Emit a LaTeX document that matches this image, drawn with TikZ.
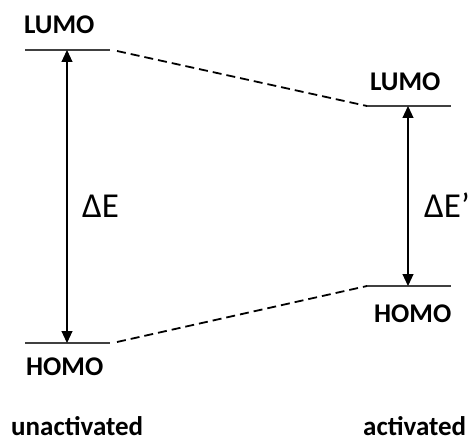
\documentclass[tikz,border=0pt]{standalone}
\usepackage{fontspec}
\setmainfont{Carlito}
\usetikzlibrary{arrows.meta}
\begin{document}
\begin{tikzpicture}[x=1bp,y=-1bp,
  lbl/.style={font=\fontsize{27bp}{30bp}\selectfont\bfseries, inner sep=0pt, anchor=base west},
  dlbl/.style={font=\fontsize{35bp}{40bp}\selectfont, inner sep=0pt, anchor=base west},
  level/.style={line width=1.1bp, draw=black!75},
  gap/.style={line width=1.1bp, {Triangle[width=11bp,length=12bp]}-{Triangle[width=11bp,length=12bp]}},
  corr/.style={line width=1.8bp, dash pattern=on 9bp off 5bp}]
\useasboundingbox (0,0) rectangle (474,443);
% levels
\coordinate (l1a) at (25,50);  \coordinate (l1b) at (110,50);
\coordinate (h1a) at (25,343); \coordinate (h1b) at (110,343);
\coordinate (l2a) at (367,106); \coordinate (l2b) at (451,106);
\coordinate (h2a) at (367,286); \coordinate (h2b) at (451,286);
\draw[level] (l1a) -- (l1b);
\draw[level] (h1a) -- (h1b);
\draw[level] (l2a) -- (l2b);
\draw[level] (h2a) -- (h2b);
% correlation lines
\coordinate (d1) at (117,51);
\coordinate (d2) at (117,342);
\draw[corr] (d1) -- (l2a);
\draw[corr] (d2) -- (h2a);
% gap arrows
\coordinate (a1t) at (67,50); \coordinate (a1b) at (67,343);
\coordinate (a2t) at (408,106); \coordinate (a2b) at (408,286);
\draw[gap] (a1t) -- (a1b);
\draw[gap] (a2t) -- (a2b);
% labels
\node[lbl] (lumo1) at (24,34) {LUMO};
\node[lbl] (homo1) at (26,375) {HOMO};
\node[lbl] (lumo2) at (370,91) {LUMO};
\node[lbl] (homo2) at (374,322) {HOMO};
\node[lbl, text depth=0pt] (un) at (11,435) {unactivated};
\node[lbl, text depth=0pt] (ac) at (363,435) {activated};
\node[dlbl] (de1) at (82,218) {ΔE};
\node[dlbl] (de2) at (424,218) {ΔE’};
\end{tikzpicture}
\end{document}
